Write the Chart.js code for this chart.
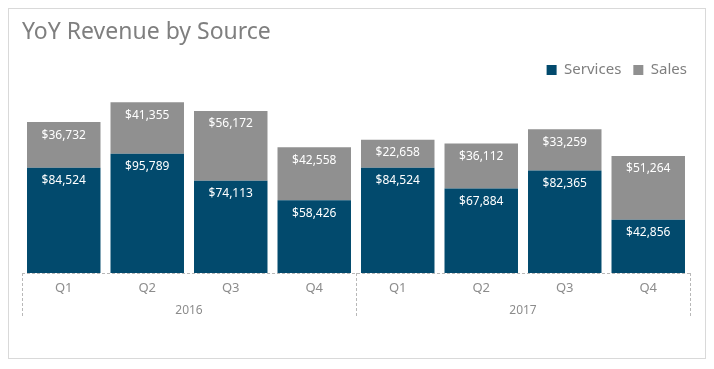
<!DOCTYPE html>
<html>
<head>
<meta charset="utf-8">
<script src="https://cdn.jsdelivr.net/npm/chart.js@4"></script>
<style>
  html, body { margin: 0; padding: 0; background: #fff; }
  #box {
    position: absolute; left: 8px; top: 8px;
    width: 698px; height: 351px;
    box-sizing: border-box; border: 1px solid #d9d9d9;
  }
  #chart { display: block; }
</style>
</head>
<body>
<div id="box"><canvas id="chart" width="696" height="349"></canvas></div>
<script>
// chart values
const quarters = ["Q1", "Q2", "Q3", "Q4", "Q1", "Q2", "Q3", "Q4"];
const years = ["2016", "2017"];
const services = [84524, 95789, 74113, 58426, 84524, 67884, 82365, 42856];
const sales = [36732, 41355, 56172, 42558, 22658, 36112, 33259, 51264];

const FONT = "'Noto Sans', sans-serif";
const GREY_TXT = "#8c8c8c";

// white $ labels near the top of each segment
const valueLabels = {
  id: "valueLabels",
  afterDatasetsDraw(chart) {
    const ctx = chart.ctx;
    ctx.save();
    ctx.fillStyle = "#ffffff";
    ctx.font = "12px " + FONT;
    ctx.textAlign = "center";
    ctx.textBaseline = "middle";
    chart.data.datasets.forEach((ds, i) => {
      chart.getDatasetMeta(i).data.forEach((bar, j) => {
        ctx.fillText("$" + ds.data[j].toLocaleString("en-US"), bar.x, bar.y + 13);
      });
    });
    ctx.restore();
  }
};

// dashed frame + year labels under the quarters
const yearAxis = {
  id: "yearAxis",
  afterDraw(chart) {
    const ctx = chart.ctx;
    const x = chart.scales.x;
    const area = chart.chartArea;
    const base = area.bottom;
    const step = x.getPixelForValue(1) - x.getPixelForValue(0);
    ctx.save();
    ctx.strokeStyle = "#b8b8b8";
    ctx.lineWidth = 1;
    ctx.setLineDash([3, 2]);
    ctx.beginPath();
    ctx.moveTo(area.left, base + 0.5);
    ctx.lineTo(area.right, base + 0.5);
    years.forEach((y, k) => {
      const xl = Math.round(x.getPixelForValue(k * 4) - step / 2) + 0.5;
      ctx.moveTo(xl, base);
      ctx.lineTo(xl, base + 45);
    });
    const xr = Math.round(x.getPixelForValue(quarters.length - 1) + step / 2) + 0.5;
    ctx.moveTo(xr, base);
    ctx.lineTo(xr, base + 45);
    ctx.stroke();
    ctx.setLineDash([]);
    ctx.fillStyle = GREY_TXT;
    ctx.font = "12px " + FONT;
    ctx.textAlign = "center";
    ctx.textBaseline = "middle";
    years.forEach((y, k) => {
      const cx = (x.getPixelForValue(k * 4) + x.getPixelForValue(k * 4 + 3)) / 2;
      ctx.fillText(y, cx, base + 38);
    });
    ctx.restore();
  }
};

new Chart(document.getElementById("chart"), {
  type: "bar",
  data: {
    labels: quarters,
    datasets: [
      { label: "Services", data: services, backgroundColor: "#024a6d" },
      { label: "Sales", data: sales, backgroundColor: "#909090" }
    ]
  },
  options: {
    responsive: false,
    animation: false,
    layout: { padding: { left: 13, right: 6, top: 0, bottom: 0 } },
    datasets: { bar: { barPercentage: 0.88, categoryPercentage: 1.0 } },
    scales: {
      x: {
        stacked: true,
        grid: { display: false, drawTicks: false },
        border: { display: false },
        ticks: { color: GREY_TXT, font: { family: FONT, size: 13 }, padding: 7 },
        afterFit(scale) { scale.height = 85; }
      },
      y: { stacked: true, display: false, min: 0, max: 149000 },
      // empty right gutter so the legend can sit further right than the bars
      gutter: {
        type: "linear", position: "right", display: true,
        grid: { display: false }, border: { display: false },
        ticks: { display: false },
        afterFit(scale) { scale.width = 9; }
      }
    },
    plugins: {
      title: {
        display: true, text: "YoY Revenue by Source", align: "start",
        color: "#7f7f7f", font: { family: FONT, size: 23, weight: "normal" },
        padding: { top: 10, bottom: 4 }
      },
      legend: {
        position: "top", align: "end",
        labels: {
          color: "#7f7f7f", font: { family: FONT, size: 15 },
          boxWidth: 10, boxHeight: 10, padding: 12
        }
      },
      tooltip: { enabled: false }
    }
  },
  plugins: [valueLabels, yearAxis]
});
</script>
</body>
</html>
